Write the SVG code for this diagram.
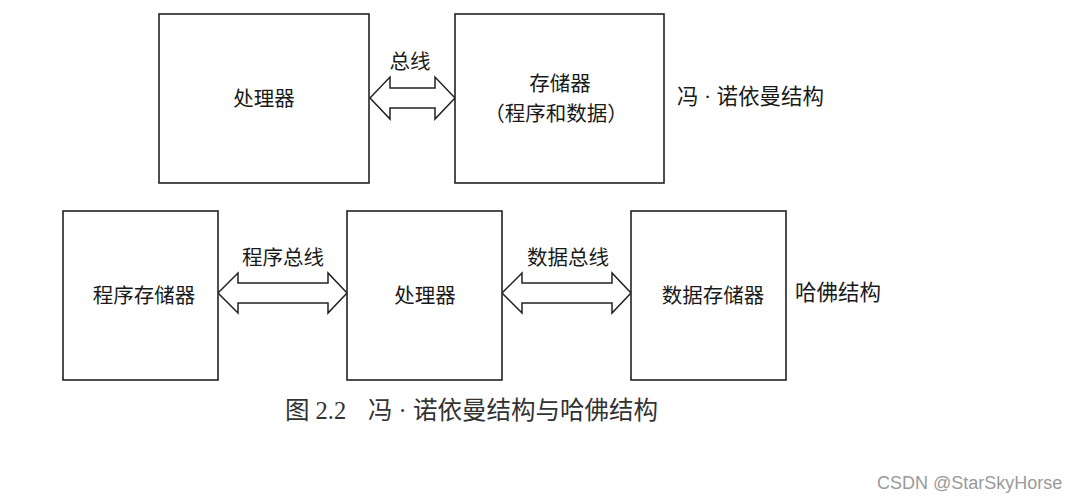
<svg xmlns="http://www.w3.org/2000/svg" width="1077" height="502" viewBox="0 0 1077 502">
<style>
.box{fill:#fff;stroke:#222;stroke-width:1.6}
.arr{fill:#fff;stroke:#222;stroke-width:1.5;stroke-linejoin:miter}
.t{font-family:"Liberation Serif","Noto Sans CJK SC",serif;font-size:20.5px;fill:#1a1a1a;text-anchor:middle;dominant-baseline:central}
.side{text-anchor:start;font-size:21.5px}
.cap{font-family:"Liberation Serif","Noto Sans CJK SC",serif;font-size:24.5px;fill:#333}
.wm{font-family:"Liberation Sans","Noto Sans",sans-serif;font-size:18px;fill:#9a9a9a}
</style>
<rect width="1077" height="502" fill="#fff"/>
<g id="connectors">
<polygon class="arr" points="370,98 390,77 390,88 435,88 435,77 455,98 435,119 435,108 390,108 390,119"/>
<polygon class="arr" points="218,293 238,273 238,283 328,283 328,273 347,293 328,313 328,303 238,303 238,313"/>
<polygon class="arr" points="502,293 522,273 522,283 612,283 612,273 631,293 612,313 612,303 522,303 522,313"/>
<text class="t" x="410" y="62">总线</text>
<text class="t" x="283" y="258">程序总线</text>
<text class="t" x="568" y="258">数据总线</text>
</g>
<g id="vn-processor">
<rect class="box" x="159" y="14" width="210" height="169"/>
<text class="t" x="264" y="99">处理器</text>
</g>
<g id="vn-memory">
<rect class="box" x="455" y="14" width="209" height="169"/>
<text class="t" x="560" y="84">存储器</text>
<text class="t" x="556" y="114">（程序和数据）</text>
</g>
<g id="vn-label">
<text class="t side" x="677" y="97">冯 · 诺依曼结构</text>
</g>
<g id="h-program-memory">
<rect class="box" x="63" y="211" width="155" height="169"/>
<text class="t" x="144" y="296">程序存储器</text>
</g>
<g id="h-processor">
<rect class="box" x="347" y="211" width="155" height="169"/>
<text class="t" x="425" y="296">处理器</text>
</g>
<g id="h-data-memory">
<rect class="box" x="631" y="211" width="155" height="169"/>
<text class="t" x="713" y="296">数据存储器</text>
</g>
<g id="h-label">
<text class="t side" x="795" y="293">哈佛结构</text>
</g>
<g id="caption">
<text class="cap" y="419"><tspan x="285">图 2.2</tspan><tspan x="368">冯 · 诺依曼结构与哈佛结构</tspan></text>
</g>
<g id="watermark">
<text class="wm" x="877" y="489">CSDN @StarSkyHorse</text>
</g>
</svg>
